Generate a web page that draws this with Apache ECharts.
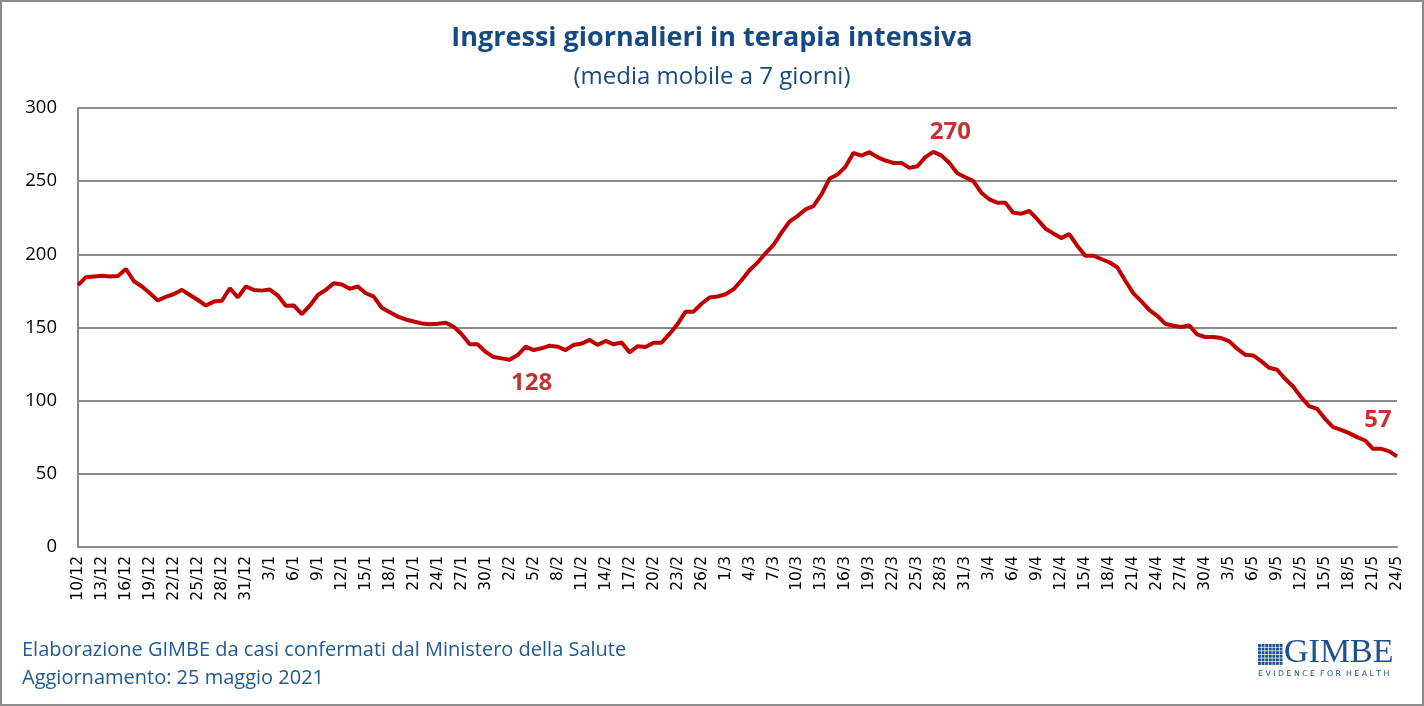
<!DOCTYPE html>
<html>
<head>
<meta charset="utf-8">
<script src="https://cdn.jsdelivr.net/npm/echarts@6/dist/echarts.min.js"></script>
<style>
html,body{margin:0;padding:0;background:#fff;}
#chart{width:1424px;height:706px;}
</style>
</head>
<body>
<div id="chart"></div>
<script>
// ---- DATA ----
const titleText = 'Ingressi giornalieri in terapia intensiva';
const subtitleText = '(media mobile a 7 giorni)';
const footerLines = ['Elaborazione GIMBE da casi confermati dal Ministero della Salute', 'Aggiornamento: 25 maggio 2021'];
const startDate = [2020, 11, 10]; // 10 Dec 2020
const dayCount = 166;             // through 24 May 2021
const yTicks = [0, 50, 100, 150, 200, 250, 300];

const values = [
  179, 184.4, 184.9, 185.3, 184.9, 185.2, 190, 181.6, 178, 173.4,
  168.5, 171, 172.9, 175.7, 172.2, 168.8, 165, 167.7, 168.3, 176.8,
  170.6, 178, 175.7, 175.2, 175.9, 171.8, 164.9, 165.1, 159.2, 164.9,
  172.2, 175.7, 180.3, 179.4, 176.4, 178, 173.4, 171.1, 163.5, 160.5,
  157.5, 155.5, 154.1, 152.8, 152.2, 152.5, 153.2, 150.5, 145.4, 138.5,
  138.5, 133.3, 129.8, 128.9, 128, 131.2, 136.9, 134.6, 135.8, 137.6,
  136.9, 134.6, 138.1, 139, 141.5, 138.1, 140.8, 138.5, 139.7, 133,
  137.2, 136.7, 139.6, 139.6, 145.6, 152.3, 160.8, 160.8, 166.2, 170.5,
  171.2, 172.7, 176.1, 182.3, 189.1, 194.3, 200.7, 206.4, 214.8, 222.3,
  226.1, 230.7, 233, 240.9, 251.6, 254.5, 259.8, 269.3, 267.5, 269.8,
  266.4, 264.1, 262.5, 262.5, 259.1, 260.2, 266.4, 270, 267.6, 262.4,
  255.4, 252.7, 250, 242.1, 237.6, 235.3, 235.3, 228.5, 227.8, 229.6,
  224, 217.7, 214.3, 211.1, 213.8, 205.9, 199.1, 199.1, 196.8, 194.6,
  191.2, 182.1, 173.5, 168, 162, 158, 152.6, 151.2, 150.3, 151.4,
  145.3, 143.5, 143.5, 142.8, 140.7, 135.5, 131.4, 130.9, 127, 122.5,
  121.1, 115, 109.7, 102.4, 96.3, 94.4, 87.6, 81.9, 80.1, 77.8,
  75.1, 72.8, 67.1, 67.1, 65.5, 61.9
];

// annotated points: index into values, and label text
const annoIdx = [54, 107, 163];
const annoText = ['128', '270', '57'];

// ---- BUILD ----
const categories = [];
{
  const d = new Date(startDate[0], startDate[1], startDate[2]);
  for (let i = 0; i < dayCount; i++) {
    categories.push(d.getDate() + '/' + (d.getMonth() + 1));
    d.setDate(d.getDate() + 1);
  }
}
const annoOffsets = [[22, 23], [17, -20], [-3, -29]];
const annoData = annoIdx.map((ix, k) => ({
  value: [categories[ix], values[ix]],
  label: { formatter: annoText[k], offset: annoOffsets[k] }
}));

const BLUE = '#174a80';
const RED = '#c00000';
const GRID = '#8a8a8a';

// logo squares
const logo = [];
for (let r = 0; r < 6; r++) {
  for (let c = 0; c < 7; c++) {
    logo.push({ type: 'rect', shape: { x: 1258 + c * 3.6, y: 644 + r * 3.6, width: 2.9, height: 2.9 }, style: { fill: '#1d4f8c' } });
  }
}

const chart = echarts.init(document.getElementById('chart'), null, { renderer: 'canvas' });
chart.setOption({
  backgroundColor: '#ffffff',
  animation: false,
  title: [
    { text: titleText, left: 'center', top: 20, textStyle: { fontFamily: 'Open Sans', fontWeight: 'bold', fontSize: 27, color: BLUE } },
    { text: subtitleText, left: 'center', top: 60, textStyle: { fontFamily: 'Open Sans', fontWeight: 'normal', fontSize: 24, color: BLUE } }
  ],
  grid: { left: 78, right: 27, top: 108, bottom: 159, containLabel: false },
  xAxis: {
    type: 'category',
    data: categories,
    boundaryGap: false,
    axisLine: { lineStyle: { color: GRID, width: 2 } },
    axisTick: { show: false },
    axisLabel: { interval: 2, rotate: 90, margin: 9, fontFamily: 'DejaVu Sans', fontSize: 15.5, color: '#000' },
    splitLine: { show: false }
  },
  yAxis: {
    type: 'value',
    min: yTicks[0],
    max: yTicks[yTicks.length - 1],
    interval: 50,
    axisLine: { show: true, lineStyle: { color: GRID, width: 2 } },
    axisTick: { show: false },
    axisLabel: { margin: 21, fontFamily: 'Open Sans', fontSize: 18.5, color: '#000' },
    splitLine: { lineStyle: { color: GRID, width: 2 } }
  },
  series: [
    {
      type: 'line',
      data: values,
      symbol: 'none',
      lineStyle: { color: RED, width: 4 },
      z: 3
    },
    {
      type: 'scatter',
      data: annoData,
      symbolSize: 0,
      label: { show: true, position: 'inside', fontFamily: 'Open Sans', fontWeight: 'bold', fontSize: 24, color: '#b40000' },
      z: 4
    }
  ],
  graphic: [
    { type: 'rect', shape: { x: 1, y: 1, width: 1422, height: 704 }, style: { fill: 'none', stroke: '#8c8c8c', lineWidth: 2 } },
    { type: 'text', left: 22, top: 640, style: { text: footerLines[0], font: '20px "Open Sans"', fill: '#1f5a96' } },
    { type: 'text', left: 22, top: 668, style: { text: footerLines[1], font: '20px "Open Sans"', fill: '#1f5a96' } },
    ...logo,
    { type: 'text', left: 1284, top: 636, style: { text: 'GIMBE', font: '34px "Liberation Serif"', fill: '#1d4f8c' } },
    { type: 'text', left: 1258, top: 670, style: { text: 'E V I D E N C E  F O R  H E A L T H', font: '7.8px "DejaVu Sans"', fill: '#1d4f8c' } }
  ]
});
</script>
</body>
</html>
